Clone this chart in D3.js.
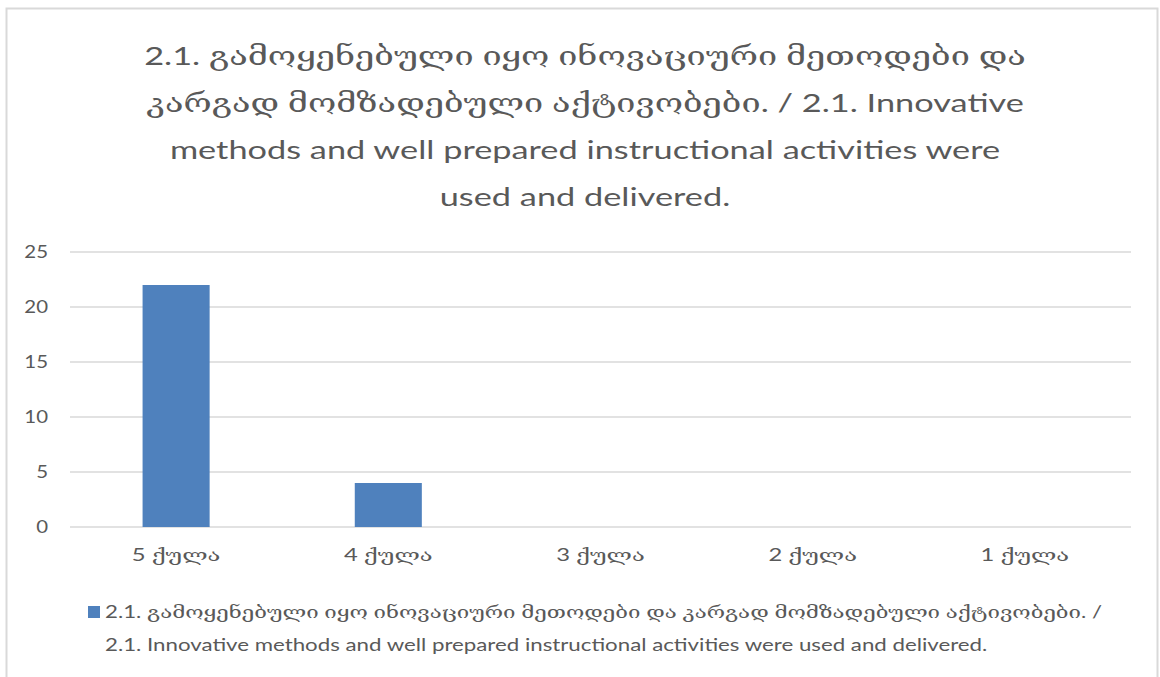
<!DOCTYPE html>
<html>
<head>
<meta charset="utf-8">
<script src="https://cdn.jsdelivr.net/npm/d3@7"></script>
<style>
  body { margin: 0; background: #fff; }
  text { fill: #595959; font-family: Lato, "DejaVu Serif", sans-serif; }
</style>
</head>
<body>
<div id="container"></div>
<script>
// chart data
var categories = ["5 ქულა", "4 ქულა", "3 ქულა", "2 ქულა", "1 ქულა"];
var values = [22, 4, 0, 0, 0];
var yTicks = [0, 5, 10, 15, 20, 25];
var titleLines = [
  "2.1. გამოყენებული იყო ინოვაციური მეთოდები და",
  "კარგად მომზადებული აქტივობები.  / 2.1. Innovative",
  "methods and well prepared instructional activities were",
  "used and delivered."
];
var legendLines = [
  "2.1. გამოყენებული იყო ინოვაციური მეთოდები და კარგად მომზადებული აქტივობები.  /",
  "2.1. Innovative methods and well prepared instructional activities were used and delivered."
];

var w = 1160, h = 677;
var barColor = "#4f81bd";
// the source picture is stretched sideways, so text is widened to match
var stretch = 1.32;

var svg = d3.select("#container").append("svg")
  .attr("width", w)
  .attr("height", h);

// outer frame
svg.append("rect")
  .attr("x", 6.5).attr("y", 8.5)
  .attr("width", 1151).attr("height", 680)
  .attr("fill", "#fff")
  .attr("stroke", "#d9d9d9")
  .attr("stroke-width", 2);

// title
svg.append("g").selectAll("text")
  .data(titleLines)
  .enter().append("text")
  .attr("transform", function(d, i) {
    return "translate(585," + (65 + i * 47) + ") scale(" + stretch + ",1)";
  })
  .attr("text-anchor", "middle")
  .style("font-size", "26px")
  .text(function(d) { return d; });

var plot = { left: 70, right: 1131, top: 252, bottom: 527 };

var x = d3.scaleBand()
  .domain(categories)
  .range([plot.left, plot.right])
  .paddingInner(0.684)
  .paddingOuter(0.342);

var y = d3.scaleLinear()
  .domain([0, 25])
  .range([plot.bottom, plot.top]);

// gridlines
svg.append("g").selectAll("line")
  .data(yTicks)
  .enter().append("line")
  .attr("x1", plot.left).attr("x2", plot.right)
  .attr("y1", function(d) { return y(d); })
  .attr("y2", function(d) { return y(d); })
  .attr("stroke", "#d9d9d9")
  .attr("stroke-width", 1.5);

// y axis labels
var yAxis = svg.append("g")
  .attr("transform", "translate(" + (plot.left - 22) + ",0)")
  .call(d3.axisLeft(y).tickValues(yTicks).tickSize(0).tickPadding(0));
yAxis.select(".domain").remove();
yAxis.selectAll("text")
  .attr("transform", "scale(1.2,1)")
  .style("font-size", "17px")
  .style("fill", "#595959")
  .style("font-family", "Lato, sans-serif");

// bars
svg.append("g").selectAll("rect")
  .data(values)
  .enter().append("rect")
  .attr("x", function(d, i) { return x(categories[i]); })
  .attr("y", function(d) { return y(d); })
  .attr("width", x.bandwidth())
  .attr("height", function(d) { return y(0) - y(d); })
  .attr("fill", barColor);

// x axis labels
var xAxis = svg.append("g")
  .attr("transform", "translate(0," + plot.bottom + ")")
  .call(d3.axisBottom(x).tickSize(0).tickPadding(22));
xAxis.select(".domain").remove();
xAxis.selectAll("text")
  .attr("transform", "scale(1.4,1)")
  .style("font-size", "17px")
  .style("fill", "#595959")
  .style("font-family", "Lato, 'DejaVu Serif', sans-serif");

// legend
var legend = svg.append("g");
legend.append("rect")
  .attr("x", 88).attr("y", 606)
  .attr("width", 12).attr("height", 12)
  .attr("fill", barColor);
legend.selectAll("text")
  .data(legendLines)
  .enter().append("text")
  .attr("transform", function(d, i) {
    return "translate(105," + (618 + i * 33) + ") scale(1.31,1)";
  })
  .style("font-size", "17px")
  .text(function(d) { return d; });
</script>
</body>
</html>
